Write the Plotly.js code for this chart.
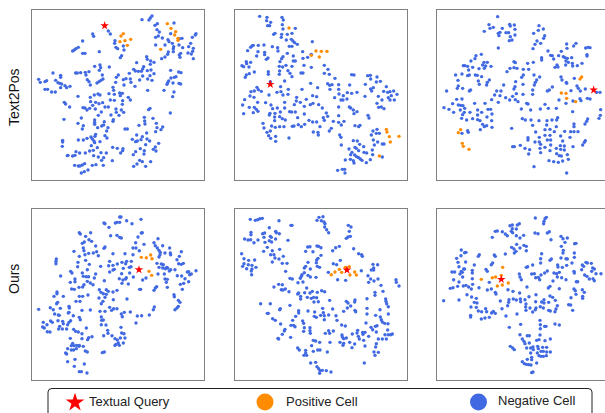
<!DOCTYPE html>
<html><head><meta charset="utf-8">
<script src="https://cdn.plot.ly/plotly-3.0.1.min.js"></script>
<style>html,body{margin:0;padding:0;background:#fff;overflow:hidden}</style></head>
<body><div id="chart" style="width:605px;height:413px"></div>
<script>
const rowLabels = ["Text2Pos","Ours"];
const legendLabels = ["Textual Query","Positive Cell","Negative Cell"];
const n1 = [[351,44],[372,45],[376,39],[381,33],[390,61],[397,56],[396,74],[403,81],[392,97],[400,93],[412,99],[447,54],[437,86],[513,86],[511,90],[502,97],[497,115],[491,125],[505,130],[503,139],[489,144],[499,147],[505,161],[429,104],[432,110],[442,115],[420,120],[446,125],[445,131],[463,101],[471,100],[462,120],[473,128],[467,145],[463,150],[465,157],[445,140],[430,141],[428,148],[420,156],[410,161],[392,120],[250,78],[256,87],[203,87],[206,94],[173,108],[160,127],[153,131],[148,135],[143,138],[173,145],[180,145],[223,140],[270,107],[269,115],[273,127],[278,131],[295,123],[297,135],[290,152],[286,158],[365,155],[367,163],[377,168],[387,172],[335,173],[376,178],[356,185],[353,192],[326,193],[331,198],[340,199],[349,199],[313,205],[367,197],[378,195],[387,206],[353,213],[375,212],[368,222],[344,225],[381,226],[330,244],[316,222],[318,232],[303,221],[295,224],[297,240],[274,217],[280,210],[272,232],[209,184],[225,180],[227,188],[253,186],[223,196],[232,210],[234,222],[228,226],[222,230],[216,234],[152,204],[157,204],[167,203],[181,202],[192,200],[183,210],[187,224],[192,230],[196,240],[84,204],[107,211],[107,217],[41,223],[46,232],[60,230],[65,227],[92,226],[99,233],[104,235],[110,237],[107,248],[120,242],[125,248],[135,244],[60,253],[68,253],[80,261],[91,261],[159,274],[118,292],[122,297],[134,306],[264,247],[266,256],[252,266],[268,268],[284,264],[292,265],[286,272],[196,277],[208,270],[219,267],[225,270],[256,285],[268,286],[240,306],[197,290],[212,292],[222,296],[233,293],[203,301],[194,310],[174,308],[180,309],[186,315],[211,312],[293,287],[292,298],[310,277],[316,285],[250,306],[273,312],[274,322],[289,315],[296,322],[258,330],[265,344],[264,349],[229,321],[220,331],[282,331],[169,339],[117,343],[159,355],[209,345],[209,352],[209,358],[238,350],[236,360],[230,363],[218,368],[175,362],[172,372],[249,368],[245,378],[368,256],[417,256],[447,261],[443,275],[437,196],[461,201],[468,203],[438,219],[448,217],[453,215],[431,228],[428,233],[426,238],[444,234],[462,235],[467,237],[375,310],[371,314],[436,324],[358,337],[359,348],[360,357],[342,361],[384,340],[394,355],[396,368],[413,366],[408,374],[300,372],[307,372],[392,380],[365,384],[352,395],[348,404],[335,390],[322,403],[332,410],[337,408],[366,402],[374,408],[362,419],[401,415],[391,426],[385,433],[393,438],[212,388],[198,396],[202,402],[210,394],[207,408],[209,413],[186,400],[175,405],[160,405],[225,410],[246,399],[240,392],[113,406],[113,411],[112,424],[217,428],[199,422],[263,427],[277,430],[294,431],[293,437],[287,444],[205,436],[194,438],[181,444],[164,444],[153,440],[150,451],[143,453],[129,451],[127,452],[206,452],[220,456],[228,443],[244,444],[236,458],[230,466],[262,467],[346,431],[332,440],[325,449],[358,437],[357,447],[344,466],[352,470],[377,470],[336,477],[326,484],[362,484],[179,476],[172,480],[165,483],[160,483],[149,481],[213,479],[202,481],[235,481],[189,495],[178,500],[169,504]];
const o1 = [[295,86],[288,93],[285,110],[300,107],[317,103],[307,121],[427,56],[438,70],[452,80],[449,90],[459,100],[459,106],[407,133]];
const q1 = [[239,62]];
const n2 = [[95,34],[117,37],[116,47],[128,52],[119,62],[125,62],[162,37],[166,45],[163,59],[165,72],[202,70],[178,88],[161,88],[160,97],[137,88],[141,85],[192,85],[175,105],[190,103],[195,108],[200,113],[208,118],[253,110],[184,124],[192,124],[133,125],[149,128],[150,138],[72,123],[76,121],[68,127],[91,121],[108,120],[59,137],[90,140],[86,153],[110,142],[110,149],[120,159],[115,163],[178,145],[165,155],[161,161],[156,170],[196,153],[196,168],[202,168],[192,184],[224,140],[225,160],[239,157],[250,148],[228,181],[250,187],[42,182],[47,185],[55,170],[56,176],[68,172],[63,186],[79,201],[64,206],[55,210],[52,217],[121,200],[121,208],[154,184],[164,186],[174,181],[155,198],[154,208],[180,197],[186,205],[192,215],[219,204],[225,204],[289,181],[300,193],[289,205],[304,208],[321,220],[371,209],[378,210],[419,212],[427,211],[447,216],[428,222],[445,231],[457,229],[170,228],[127,230],[412,238],[248,235],[269,248],[299,236],[305,241],[312,239],[306,253],[332,239],[332,253],[365,240],[436,248],[428,252],[431,258],[475,245],[467,259],[479,262],[486,260],[497,258],[507,268],[451,274],[490,272],[481,278],[486,285],[499,285],[462,285],[447,295],[452,307],[460,306],[468,311],[87,247],[91,254],[100,259],[69,260],[79,258],[66,273],[78,277],[158,245],[181,253],[147,262],[159,260],[165,270],[180,268],[123,270],[222,253],[50,284],[44,300],[89,292],[113,293],[64,307],[79,307],[85,313],[90,319],[76,323],[47,326],[129,300],[134,311],[148,309],[170,292],[170,309],[206,277],[205,288],[217,292],[199,299],[235,283],[254,272],[266,275],[247,299],[255,295],[272,299],[229,304],[283,309],[320,278],[333,267],[346,272],[358,263],[371,265],[387,262],[411,274],[339,285],[345,285],[357,282],[332,306],[364,306],[368,309],[376,315],[387,320],[378,326],[332,332],[420,331],[423,339],[185,320],[191,321],[202,321],[229,327],[295,324],[299,334],[286,338],[289,346],[126,325],[124,330],[141,325],[157,321],[140,336],[140,347],[155,335],[163,341],[172,345],[209,338],[243,346],[254,351],[266,351],[316,349],[332,352],[348,349],[340,360],[105,355],[108,369],[117,382],[127,378],[122,392],[128,400],[143,394],[143,409],[183,399],[131,363],[142,367],[155,365],[168,365],[193,364],[198,363],[211,359],[220,365],[230,358],[276,365],[256,381],[270,382],[271,390],[304,378],[310,370],[381,362],[392,365],[396,361],[335,390],[339,397],[340,420],[447,373],[435,378],[445,385],[454,385],[430,390],[436,405],[439,420],[449,411],[463,417],[468,417],[376,407],[388,408],[395,418],[381,427],[385,430],[407,425],[363,432],[392,437],[372,442],[368,449],[380,450],[386,455],[392,458],[397,462],[402,466],[433,435],[434,449],[408,442],[416,444],[415,473],[427,464],[352,465],[367,463],[376,467],[378,474],[463,456],[329,496],[343,493],[350,493],[351,504]];
const o2 = [[183,69],[264,138],[280,139],[297,139],[250,151],[274,156],[475,373],[477,381],[484,395],[513,394],[487,411],[454,453]];
const q2 = [[127,238]];
const n3 = [[203,35],[177,59],[190,67],[163,79],[180,70],[217,70],[239,58],[241,63],[253,60],[255,73],[210,82],[205,85],[207,92],[228,83],[236,83],[255,90],[241,95],[246,105],[238,107],[327,62],[325,76],[340,72],[311,85],[344,92],[341,100],[321,108],[315,118],[332,115],[309,131],[205,129],[354,138],[410,117],[411,130],[431,123],[438,115],[394,139],[467,129],[474,127],[480,128],[471,149],[471,153],[362,151],[367,152],[386,152],[371,162],[400,155],[405,158],[412,160],[425,158],[408,168],[407,180],[415,172],[427,175],[428,183],[442,182],[456,175],[381,180],[375,187],[384,186],[335,158],[335,165],[154,148],[138,152],[135,161],[123,168],[100,182],[105,182],[113,184],[128,187],[116,195],[113,212],[118,210],[136,210],[142,211],[155,215],[147,191],[162,172],[172,172],[158,180],[167,183],[183,184],[163,190],[77,210],[96,207],[84,226],[85,243],[82,250],[98,250],[50,258],[118,258],[122,255],[145,228],[148,238],[178,225],[172,232],[170,240],[252,170],[256,173],[293,175],[310,172],[240,190],[252,188],[261,190],[231,200],[280,193],[296,193],[280,210],[275,217],[257,230],[255,245],[252,252],[279,238],[312,210],[329,216],[320,225],[316,232],[313,240],[221,240],[308,255],[367,246],[358,255],[352,258],[393,216],[396,225],[409,232],[433,220],[410,235],[441,243],[445,250],[451,258],[423,257],[466,252],[387,285],[408,295],[429,288],[450,281],[453,287],[472,280],[480,282],[500,262],[510,262],[194,270],[200,258],[213,258],[210,272],[205,292],[185,284],[227,278],[239,285],[248,274],[259,266],[256,284],[264,290],[279,268],[290,295],[294,297],[308,268],[274,312],[302,315],[331,312],[345,298],[355,310],[379,310],[96,282],[80,283],[68,296],[42,308],[57,313],[71,322],[85,300],[92,301],[99,302],[104,310],[91,315],[103,322],[98,329],[95,340],[110,345],[134,295],[120,322],[128,341],[165,295],[143,315],[143,330],[155,322],[174,313],[182,313],[186,327],[171,336],[143,344],[150,347],[185,347],[158,358],[163,365],[170,362],[186,367],[151,374],[428,320],[512,314],[511,331],[507,340],[473,342],[470,349],[465,357],[383,338],[380,345],[277,341],[286,345],[303,345],[327,347],[351,347],[366,345],[308,361],[350,360],[379,365],[432,357],[432,365],[422,380],[432,380],[444,380],[404,379],[245,370],[317,381],[345,374],[360,373],[373,380],[345,391],[360,391],[392,393],[294,398],[294,405],[328,397],[352,405],[362,405],[398,408],[315,411],[328,411],[332,418],[420,397],[466,407],[463,412],[458,420],[248,425],[253,425],[271,421],[285,430],[299,434],[296,447],[330,430],[345,427],[362,420],[360,437],[332,443],[391,422],[403,423],[429,425],[379,430],[392,433],[403,435],[380,446],[388,452],[394,453],[412,449],[357,467],[371,470],[385,472],[398,468],[415,463],[312,485],[410,504],[113,377],[115,382],[96,385]];
const o3 = [[455,216],[450,222],[394,264],[408,265],[410,280],[437,290],[92,374],[85,383],[97,415],[100,424],[117,433]];
const q3 = [[491,255]];
const n4 = [[284,42],[288,42],[276,58],[271,60],[284,58],[305,53],[321,62],[348,49],[237,60],[240,62],[252,73],[163,89],[166,93],[197,89],[182,100],[192,110],[178,117],[172,121],[200,115],[212,129],[257,98],[276,97],[284,103],[289,105],[339,102],[349,90],[352,89],[332,119],[357,124],[324,135],[333,135],[343,143],[387,119],[399,107],[413,128],[391,128],[397,135],[402,142],[406,148],[434,135],[420,150],[436,150],[437,155],[405,155],[402,162],[463,160],[469,146],[456,170],[240,132],[237,136],[175,135],[177,143],[147,145],[163,160],[180,155],[191,151],[205,150],[215,146],[220,158],[264,152],[300,152],[324,155],[94,168],[93,175],[93,182],[159,178],[182,172],[193,184],[158,191],[227,190],[254,175],[277,183],[291,178],[305,175],[302,182],[319,175],[264,187],[251,188],[295,196],[313,193],[318,191],[268,199],[264,201],[254,207],[137,205],[141,210],[107,219],[172,210],[187,200],[175,220],[212,213],[184,221],[191,221],[208,225],[136,238],[150,228],[150,236],[162,253],[173,252],[177,245],[187,235],[196,240],[204,245],[238,233],[290,212],[314,210],[325,222],[283,227],[294,231],[302,228],[291,241],[310,243],[304,224],[140,258],[148,259],[396,181],[409,183],[415,185],[402,193],[425,193],[421,197],[413,195],[450,200],[437,200],[433,204],[399,213],[418,213],[428,195],[461,182],[469,184],[475,181],[487,207],[491,206],[513,203],[499,213],[494,215],[457,218],[470,219],[480,227],[491,236],[476,241],[466,244],[420,228],[427,229],[424,238],[427,253],[472,259],[353,231],[363,225],[344,259],[347,259],[387,262],[391,255],[395,251],[223,260],[244,260],[250,265],[235,272],[244,274],[228,268],[264,267],[276,262],[96,267],[96,272],[87,280],[115,280],[163,280],[173,280],[189,276],[222,285],[240,283],[234,295],[229,302],[265,290],[306,288],[98,298],[95,302],[153,295],[165,295],[132,310],[133,315],[76,314],[106,316],[41,319],[85,320],[89,333],[100,336],[103,337],[132,328],[130,330],[145,338],[171,322],[196,321],[254,313],[260,322],[266,317],[276,317],[225,325],[240,325],[298,328],[289,333],[292,341],[316,327],[388,312],[385,320],[337,339],[350,338],[373,336],[333,360],[447,275],[448,281],[460,292],[465,298],[460,310],[456,315],[450,320],[229,342],[235,351],[230,352],[229,365],[243,366],[163,343],[166,350],[137,353],[132,358],[55,358],[77,354],[82,358],[66,365],[53,372],[58,375],[99,353],[113,355],[115,362],[128,365],[104,370],[101,378],[112,378],[125,378],[67,386],[75,387],[146,379],[152,385],[160,387],[171,392],[184,375],[288,373],[248,382],[249,391],[236,398],[261,398],[290,390],[297,392],[286,405],[300,405],[201,401],[191,404],[188,410],[171,407],[136,406],[270,407],[277,411],[273,424],[270,427],[280,420],[283,427],[295,420],[143,421],[139,428],[147,428],[155,427],[163,427],[128,437],[139,441],[146,441],[154,437],[162,430],[175,430],[181,444],[187,447],[122,450],[125,453],[150,469],[128,476],[178,483],[148,490],[163,506],[169,506],[186,510],[232,449],[238,447]];
const o4 = [[349,163],[364,164],[377,156],[381,167],[372,205],[380,217]];
const q4 = [[342,200]];
const n5 = [[67,49],[82,52],[89,50],[96,47],[103,46],[153,53],[189,67],[192,67],[273,43],[285,41],[267,52],[280,53],[288,57],[291,62],[290,72],[296,80],[302,89],[124,74],[143,85],[145,89],[154,92],[104,92],[110,90],[69,88],[69,95],[108,103],[127,100],[130,103],[143,108],[124,113],[50,108],[60,111],[68,110],[90,111],[78,119],[180,112],[131,117],[111,118],[118,133],[155,139],[107,145],[133,143],[138,155],[128,155],[141,165],[153,168],[166,160],[41,152],[48,167],[62,172],[80,171],[48,182],[44,190],[56,197],[61,185],[72,187],[84,193],[72,198],[70,204],[71,215],[133,177],[163,181],[177,181],[173,205],[361,67],[369,72],[364,85],[367,100],[360,102],[355,106],[239,132],[246,131],[267,129],[272,130],[279,134],[233,145],[255,146],[279,157],[270,166],[266,171],[265,179],[240,178],[233,190],[229,195],[247,198],[268,190],[275,193],[334,130],[323,134],[314,143],[377,137],[392,152],[401,155],[403,160],[337,172],[316,182],[326,185],[435,184],[449,185],[437,195],[437,201],[430,201],[400,203],[301,208],[420,218],[428,228],[450,228],[438,234],[422,238],[329,230],[353,232],[229,209],[222,215],[220,220],[217,226],[240,217],[247,222],[264,223],[186,226],[193,228],[210,239],[225,237],[504,230],[505,238],[513,249],[459,247],[465,265],[441,268],[441,277],[152,244],[163,245],[138,252],[160,260],[165,261],[172,258],[183,266],[236,255],[230,269],[246,270],[253,265],[212,270],[209,273],[218,280],[218,288],[268,268],[281,263],[290,266],[238,283],[250,286],[257,283],[266,284],[258,297],[271,296],[305,292],[98,302],[127,302],[186,307],[157,317],[155,320],[118,331],[121,331],[134,347],[142,352],[158,363],[355,295],[360,300],[381,291],[380,297],[417,287],[473,288],[474,295],[476,302],[368,309],[358,315],[347,325],[381,322],[383,326],[417,316],[417,333],[456,320],[481,311],[481,333],[443,337],[284,316],[314,318],[212,323],[212,330],[240,324],[260,327],[203,340],[286,329],[278,337],[289,338],[302,336],[259,340],[265,343],[289,350],[324,338],[327,352],[194,352],[224,354],[227,361],[189,367],[197,367],[201,371],[414,360],[457,342],[460,350],[463,357],[470,361],[480,362],[341,366],[352,369],[429,373],[442,370],[447,368],[434,380],[445,387],[171,379],[169,384],[163,394],[150,406],[152,408],[188,403],[229,374],[227,385],[246,374],[246,383],[247,391],[302,383],[316,384],[292,391],[305,391],[306,418],[342,396],[343,402],[347,407],[355,405],[373,393],[389,382],[387,390],[404,388],[411,388],[391,400],[405,394],[422,400],[394,408],[407,412],[365,418],[336,418],[347,421],[345,427],[380,423],[372,434],[411,429],[479,381],[471,395],[481,395],[488,395],[493,393],[475,408],[463,408],[451,408],[445,422],[443,432],[438,447],[451,448],[441,457],[256,412],[263,414],[275,418],[251,428],[209,435],[214,441],[233,442],[256,445],[269,441],[276,441],[233,450],[228,457],[236,457],[298,447],[248,480],[263,478],[409,480],[267,491],[272,497],[276,503],[275,511],[283,502],[295,503],[309,507]];
const o5 = [[310,215],[321,207],[334,199],[341,208],[352,193],[364,191],[355,200],[366,216],[380,207],[385,216]];
const q5 = [[357,201]];
const n6 = [[316,45],[349,43],[345,47],[342,55],[341,62],[268,62],[262,66],[247,66],[240,68],[259,78],[247,77],[244,85],[196,85],[202,84],[217,86],[226,93],[232,98],[248,89],[187,103],[259,98],[270,105],[281,97],[315,90],[324,92],[352,90],[358,86],[363,110],[393,100],[399,107],[412,105],[405,118],[394,130],[434,122],[438,121],[260,124],[245,133],[252,138],[270,135],[282,127],[289,130],[289,143],[258,145],[253,150],[226,153],[400,142],[399,150],[393,165],[433,150],[433,163],[94,141],[104,149],[108,148],[93,158],[80,166],[84,178],[87,191],[107,177],[148,155],[145,160],[133,186],[193,156],[196,160],[188,180],[184,185],[335,152],[332,167],[364,168],[360,172],[332,180],[308,186],[293,191],[289,193],[66,207],[74,207],[94,205],[101,198],[104,198],[97,208],[90,213],[71,230],[98,222],[87,237],[83,250],[69,254],[61,256],[100,249],[108,247],[127,202],[127,210],[127,227],[128,244],[116,252],[124,258],[147,254],[168,199],[172,205],[383,186],[384,192],[397,193],[408,167],[412,168],[426,180],[410,187],[432,205],[433,210],[408,230],[395,224],[388,208],[380,212],[372,210],[382,222],[369,234],[352,204],[344,210],[333,216],[329,230],[317,224],[305,213],[313,212],[325,223],[268,213],[270,222],[274,230],[457,186],[468,178],[472,180],[484,181],[461,190],[455,200],[488,195],[493,198],[485,205],[464,216],[471,220],[498,212],[513,212],[478,228],[489,227],[493,233],[439,236],[443,236],[178,238],[291,252],[360,250],[355,255],[388,257],[432,258],[436,263],[457,260],[463,268],[458,280],[458,286],[438,274],[423,284],[196,268],[198,273],[172,261],[184,258],[234,260],[249,265],[269,270],[318,275],[360,279],[41,293],[87,291],[111,275],[125,282],[139,286],[133,298],[141,300],[123,312],[139,313],[145,324],[155,326],[167,317],[170,326],[122,337],[122,342],[154,348],[165,345],[178,343],[185,330],[190,325],[196,331],[211,294],[237,290],[250,288],[259,291],[271,288],[272,296],[285,290],[297,281],[236,298],[233,308],[216,317],[228,339],[261,333],[288,303],[287,312],[288,322],[300,315],[317,296],[335,297],[342,290],[342,300],[356,298],[368,283],[376,292],[382,308],[378,318],[375,326],[361,324],[356,322],[340,315],[331,311],[318,315],[308,327],[316,320],[416,305],[422,306],[428,322],[272,364],[238,373],[330,352],[331,365],[331,377],[344,370],[348,370],[375,363],[388,366],[270,395],[292,398],[298,398],[330,396],[327,410],[320,412],[361,408],[345,413],[277,408],[282,415],[285,422],[298,420],[241,430],[248,435],[253,440],[290,435],[302,435],[309,432],[310,440],[323,430],[325,437],[338,433],[350,433],[333,445],[340,445],[350,447],[361,447],[322,450],[327,458],[333,460],[340,460],[349,458],[302,450],[305,463],[305,470],[292,469],[277,476],[283,482],[289,484],[296,485],[303,486],[320,480],[305,509],[309,507]];
const o6 = [[218,193],[154,229],[187,224],[197,222],[214,217],[235,240],[217,246],[202,249]];
const q6 = [[214,229]];

const W = 605, H = 413;
const NEG = "#4169E1", POS = "#FF8C00", QRY = "#FF0000", FRAME = "#808080";
const panels = [
  {n:n1,o:o1,q:q1,box:[31.8,203.5,9.5,179.5],xr:[20.5,535.5],yr:[523.5,13.5]},
  {n:n2,o:o2,q:q2,box:[234.8,406.5,9.5,179.5],xr:[20.5,535.5],yr:[523.5,13.5]},
  {n:n3,o:o3,q:q3,box:[436.8,605,9.5,179.5],xr:[20.5,525],yr:[523.5,13.5]},
  {n:n4,o:o4,q:q4,box:[31.8,203.5,209.2,379.5],xr:[20.5,535.5],yr:[529.5,18.5]},
  {n:n5,o:o5,q:q5,box:[234.8,406.5,209.2,379.5],xr:[20.5,535.5],yr:[529.5,18.5]},
  {n:n6,o:o6,q:q6,box:[436.8,605,209.2,379.5],xr:[20.5,525],yr:[529.5,18.5]}
];
const data = [];
const layout = {width:W,height:H,margin:{l:0,r:0,t:0,b:0},paper_bgcolor:"#fff",plot_bgcolor:"rgba(0,0,0,0)",showlegend:false,annotations:[],shapes:[]};
const axisBase = {showgrid:false,zeroline:false,showticklabels:false,ticks:"",showline:true,mirror:true,linecolor:FRAME,linewidth:1,fixedrange:true};
function pts(arr,i,color,size,symbol){
  data.push({type:"scatter",mode:"markers",xaxis:"x"+i,yaxis:"y"+i,cliponaxis:false,hoverinfo:"skip",
    x:arr.map(p=>p[0]),y:arr.map(p=>p[1]),marker:{color,size,opacity:1,symbol:symbol||"circle",line:{width:0}}});
}
panels.forEach((p,k)=>{
  const i = k+2;
  layout["xaxis"+i] = Object.assign({},axisBase,{domain:[p.box[0]/W,p.box[1]/W],range:p.xr,anchor:"y"+i});
  layout["yaxis"+i] = Object.assign({},axisBase,{domain:[1-p.box[3]/H,1-p.box[2]/H],range:p.yr,anchor:"x"+i});
  pts(p.n,i,NEG,3.4);
  pts(p.o,i,POS,3.4);
  pts(p.q,i,QRY,6.5,"star");
});
const keyX = [75,265,478.5], keyY = [402.5,402,402];
layout.xaxis = {domain:[0,1],range:[0,W],visible:false,fixedrange:true,anchor:"y"};
layout.yaxis = {domain:[0,1],range:[H,0],visible:false,fixedrange:true,anchor:"x"};
data.push({type:"scatter",mode:"markers",xaxis:"x",yaxis:"y",hoverinfo:"skip",x:keyX,y:keyY,
  marker:{color:[QRY,POS,NEG],size:[14,17,17],opacity:1,symbol:["star","circle","circle"],line:{width:0}}});
const txt = (t,x,y,o)=>Object.assign({text:t,xref:"paper",yref:"paper",x:x/W,y:1-y/H,showarrow:false,
  font:{family:"Liberation Sans, Arial, sans-serif",size:13,color:"#222"},xanchor:"left",yanchor:"middle"},o||{});
layout.annotations.push(txt(legendLabels[0],87,401.5));
layout.annotations.push(txt(legendLabels[1],284,401.5));
layout.annotations.push(txt(legendLabels[2],496,400.5));
layout.annotations.push(txt(rowLabels[0],14,97,{textangle:-90,xanchor:"center",font:{family:"Liberation Sans, Arial, sans-serif",size:14,color:"#111"}}));
layout.annotations.push(txt(rowLabels[1],14,279,{textangle:-90,xanchor:"center",font:{family:"Liberation Sans, Arial, sans-serif",size:14,color:"#111"}}));
layout.shapes.push({type:"path",xref:"x",yref:"y",line:{color:"#222",width:1},
  path:"M 48 415 L 48 392 Q 48 388.5 52 388.5 L 588 388.5 Q 592 388.5 592 392 L 592 415"});
Plotly.newPlot("chart",data,layout,{displayModeBar:false,staticPlot:true});
</script></body></html>
